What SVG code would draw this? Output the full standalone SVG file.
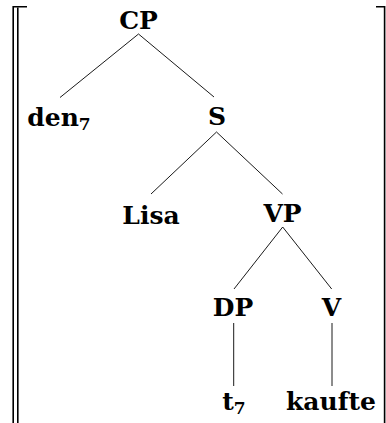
<svg xmlns="http://www.w3.org/2000/svg" width="386" height="423" viewBox="0 0 386 423">
<style>
.n{font-family:"DejaVu Serif","Liberation Serif",serif;font-weight:bold;font-size:25px;fill:#000;text-anchor:middle}
.sub{font-size:17px}
.e{stroke:#000;stroke-width:0.9;fill:none}
.br{stroke:#000;stroke-width:1.6;fill:none}
</style>
<rect width="386" height="423" fill="#fff"/>
<g id="brackets">
<path class="br" d="M13.2,423 V6.8 H27"/>
<path class="br" d="M17.8,423 V7.6"/>
<path class="br" d="M376,6.8 H384.6 V423"/>
</g>
<g id="connectors">
<line class="e" x1="138.5" y1="34" x2="60" y2="97.5"/>
<line class="e" x1="138.5" y1="34" x2="214" y2="97"/>
<line class="e" x1="216.5" y1="132" x2="151" y2="194"/>
<line class="e" x1="216.5" y1="132" x2="282.5" y2="194"/>
<line class="e" x1="282.7" y1="227" x2="234" y2="289"/>
<line class="e" x1="282.7" y1="227" x2="331.7" y2="289"/>
<line class="e" x1="233.7" y1="323" x2="233.7" y2="386"/>
<line class="e" x1="332" y1="323" x2="332" y2="386"/>
</g>
<g id="CP"><text class="n" x="138.5" y="29">CP</text></g>
<g id="den7"><text class="n" x="59" y="126">den<tspan class="sub" dy="4">7</tspan></text></g>
<g id="S"><text class="n" x="217" y="125">S</text></g>
<g id="Lisa"><text class="n" x="151" y="224">Lisa</text></g>
<g id="VP"><text class="n" x="282.5" y="222">VP</text></g>
<g id="DP"><text class="n" x="233" y="316">DP</text></g>
<g id="V"><text class="n" x="331.5" y="316">V</text></g>
<g id="t7"><text class="n" x="234" y="410">t<tspan class="sub" dy="4">7</tspan></text></g>
<g id="kaufte"><text class="n" x="331" y="410">kaufte</text></g>
</svg>
